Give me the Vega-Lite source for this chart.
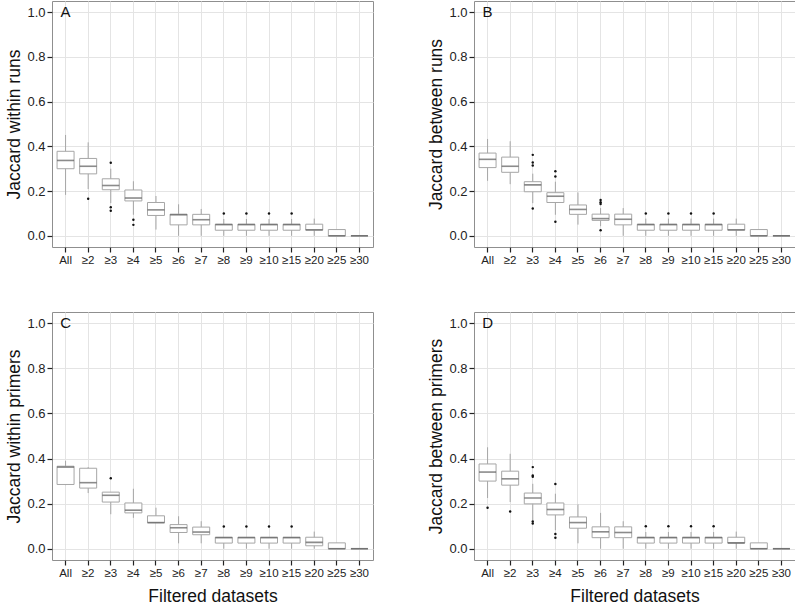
{
  "$schema": "https://vega.github.io/schema/vega-lite/v6.json",
  "background": "white",
  "padding": {"left": 5, "top": 0, "right": 1, "bottom": 0},
  "datasets": {
    "stats": [
      {"p": "A", "c": "All", "lo": 0.183, "q1": 0.300, "med": 0.337, "q3": 0.378, "hi": 0.451},
      {"p": "A", "c": "≥2", "lo": 0.209, "q1": 0.277, "med": 0.311, "q3": 0.346, "hi": 0.418},
      {"p": "A", "c": "≥3", "lo": 0.146, "q1": 0.206, "med": 0.225, "q3": 0.255, "hi": 0.300},
      {"p": "A", "c": "≥4", "lo": 0.094, "q1": 0.156, "med": 0.169, "q3": 0.205, "hi": 0.244},
      {"p": "A", "c": "≥5", "lo": 0.028, "q1": 0.091, "med": 0.116, "q3": 0.149, "hi": 0.178},
      {"p": "A", "c": "≥6", "lo": 0.0, "q1": 0.049, "med": 0.094, "q3": 0.097, "hi": 0.141},
      {"p": "A", "c": "≥7", "lo": 0.0, "q1": 0.049, "med": 0.072, "q3": 0.096, "hi": 0.120},
      {"p": "A", "c": "≥8", "lo": 0.0, "q1": 0.025, "med": 0.050, "q3": 0.052, "hi": 0.075},
      {"p": "A", "c": "≥9", "lo": 0.0, "q1": 0.025, "med": 0.050, "q3": 0.052, "hi": 0.075},
      {"p": "A", "c": "≥10", "lo": 0.0, "q1": 0.025, "med": 0.050, "q3": 0.052, "hi": 0.075},
      {"p": "A", "c": "≥15", "lo": 0.0, "q1": 0.025, "med": 0.050, "q3": 0.052, "hi": 0.075},
      {"p": "A", "c": "≥20", "lo": 0.0, "q1": 0.025, "med": 0.027, "q3": 0.052, "hi": 0.077},
      {"p": "A", "c": "≥25", "lo": 0.0, "q1": 0.0, "med": 0.0, "q3": 0.028, "hi": 0.028},
      {"p": "A", "c": "≥30", "lo": 0.0, "q1": 0.0, "med": 0.0, "q3": 0.0, "hi": 0.0},
      {"p": "B", "c": "All", "lo": 0.246, "q1": 0.305, "med": 0.342, "q3": 0.370, "hi": 0.433},
      {"p": "B", "c": "≥2", "lo": 0.231, "q1": 0.284, "med": 0.311, "q3": 0.352, "hi": 0.423},
      {"p": "B", "c": "≥3", "lo": 0.146, "q1": 0.197, "med": 0.228, "q3": 0.242, "hi": 0.278},
      {"p": "B", "c": "≥4", "lo": 0.094, "q1": 0.149, "med": 0.177, "q3": 0.193, "hi": 0.242},
      {"p": "B", "c": "≥5", "lo": 0.050, "q1": 0.096, "med": 0.118, "q3": 0.138, "hi": 0.194},
      {"p": "B", "c": "≥6", "lo": 0.043, "q1": 0.069, "med": 0.077, "q3": 0.097, "hi": 0.124},
      {"p": "B", "c": "≥7", "lo": 0.0, "q1": 0.049, "med": 0.074, "q3": 0.097, "hi": 0.124},
      {"p": "B", "c": "≥8", "lo": 0.0, "q1": 0.025, "med": 0.050, "q3": 0.052, "hi": 0.077},
      {"p": "B", "c": "≥9", "lo": 0.0, "q1": 0.025, "med": 0.050, "q3": 0.052, "hi": 0.077},
      {"p": "B", "c": "≥10", "lo": 0.0, "q1": 0.025, "med": 0.050, "q3": 0.052, "hi": 0.077},
      {"p": "B", "c": "≥15", "lo": 0.0, "q1": 0.025, "med": 0.050, "q3": 0.052, "hi": 0.077},
      {"p": "B", "c": "≥20", "lo": 0.0, "q1": 0.025, "med": 0.027, "q3": 0.052, "hi": 0.077},
      {"p": "B", "c": "≥25", "lo": 0.0, "q1": 0.0, "med": 0.0, "q3": 0.028, "hi": 0.028},
      {"p": "B", "c": "≥30", "lo": 0.0, "q1": 0.0, "med": 0.0, "q3": 0.0, "hi": 0.0},
      {"p": "C", "c": "All", "lo": 0.282, "q1": 0.285, "med": 0.362, "q3": 0.366, "hi": 0.390},
      {"p": "C", "c": "≥2", "lo": 0.247, "q1": 0.269, "med": 0.293, "q3": 0.357, "hi": 0.362},
      {"p": "C", "c": "≥3", "lo": 0.153, "q1": 0.207, "med": 0.237, "q3": 0.251, "hi": 0.251},
      {"p": "C", "c": "≥4", "lo": 0.137, "q1": 0.159, "med": 0.171, "q3": 0.203, "hi": 0.266},
      {"p": "C", "c": "≥5", "lo": 0.115, "q1": 0.115, "med": 0.116, "q3": 0.146, "hi": 0.182},
      {"p": "C", "c": "≥6", "lo": 0.024, "q1": 0.072, "med": 0.093, "q3": 0.107, "hi": 0.144},
      {"p": "C", "c": "≥7", "lo": 0.024, "q1": 0.062, "med": 0.074, "q3": 0.096, "hi": 0.122},
      {"p": "C", "c": "≥8", "lo": 0.0, "q1": 0.025, "med": 0.049, "q3": 0.051, "hi": 0.051},
      {"p": "C", "c": "≥9", "lo": 0.0, "q1": 0.025, "med": 0.049, "q3": 0.051, "hi": 0.051},
      {"p": "C", "c": "≥10", "lo": 0.0, "q1": 0.025, "med": 0.049, "q3": 0.051, "hi": 0.051},
      {"p": "C", "c": "≥15", "lo": 0.0, "q1": 0.025, "med": 0.049, "q3": 0.051, "hi": 0.051},
      {"p": "C", "c": "≥20", "lo": 0.0, "q1": 0.013, "med": 0.028, "q3": 0.051, "hi": 0.076},
      {"p": "C", "c": "≥25", "lo": 0.0, "q1": 0.0, "med": 0.0, "q3": 0.026, "hi": 0.026},
      {"p": "C", "c": "≥30", "lo": 0.0, "q1": 0.0, "med": 0.0, "q3": 0.0, "hi": 0.0},
      {"p": "D", "c": "All", "lo": 0.225, "q1": 0.300, "med": 0.340, "q3": 0.376, "hi": 0.450},
      {"p": "D", "c": "≥2", "lo": 0.207, "q1": 0.282, "med": 0.310, "q3": 0.344, "hi": 0.421},
      {"p": "D", "c": "≥3", "lo": 0.126, "q1": 0.199, "med": 0.225, "q3": 0.247, "hi": 0.288},
      {"p": "D", "c": "≥4", "lo": 0.082, "q1": 0.150, "med": 0.174, "q3": 0.203, "hi": 0.244},
      {"p": "D", "c": "≥5", "lo": 0.024, "q1": 0.091, "med": 0.116, "q3": 0.141, "hi": 0.197},
      {"p": "D", "c": "≥6", "lo": 0.0, "q1": 0.049, "med": 0.075, "q3": 0.097, "hi": 0.159},
      {"p": "D", "c": "≥7", "lo": 0.0, "q1": 0.049, "med": 0.072, "q3": 0.097, "hi": 0.122},
      {"p": "D", "c": "≥8", "lo": 0.0, "q1": 0.025, "med": 0.049, "q3": 0.051, "hi": 0.074},
      {"p": "D", "c": "≥9", "lo": 0.0, "q1": 0.025, "med": 0.049, "q3": 0.051, "hi": 0.074},
      {"p": "D", "c": "≥10", "lo": 0.0, "q1": 0.025, "med": 0.049, "q3": 0.051, "hi": 0.074},
      {"p": "D", "c": "≥15", "lo": 0.0, "q1": 0.025, "med": 0.049, "q3": 0.051, "hi": 0.074},
      {"p": "D", "c": "≥20", "lo": 0.0, "q1": 0.025, "med": 0.026, "q3": 0.051, "hi": 0.076},
      {"p": "D", "c": "≥25", "lo": 0.0, "q1": 0.0, "med": 0.0, "q3": 0.026, "hi": 0.026},
      {"p": "D", "c": "≥30", "lo": 0.0, "q1": 0.0, "med": 0.0, "q3": 0.0, "hi": 0.0}
    ],
    "outliers": [
      {"p": "A", "c": "≥2", "v": 0.166},
      {"p": "A", "c": "≥3", "v": 0.327},
      {"p": "A", "c": "≥3", "v": 0.128},
      {"p": "A", "c": "≥3", "v": 0.112},
      {"p": "A", "c": "≥4", "v": 0.072},
      {"p": "A", "c": "≥4", "v": 0.049},
      {"p": "A", "c": "≥8", "v": 0.100},
      {"p": "A", "c": "≥9", "v": 0.100},
      {"p": "A", "c": "≥10", "v": 0.100},
      {"p": "A", "c": "≥15", "v": 0.100},
      {"p": "B", "c": "≥3", "v": 0.362},
      {"p": "B", "c": "≥3", "v": 0.328},
      {"p": "B", "c": "≥3", "v": 0.314},
      {"p": "B", "c": "≥3", "v": 0.122},
      {"p": "B", "c": "≥4", "v": 0.289},
      {"p": "B", "c": "≥4", "v": 0.265},
      {"p": "B", "c": "≥4", "v": 0.063},
      {"p": "B", "c": "≥6", "v": 0.160},
      {"p": "B", "c": "≥6", "v": 0.150},
      {"p": "B", "c": "≥6", "v": 0.142},
      {"p": "B", "c": "≥6", "v": 0.025},
      {"p": "B", "c": "≥8", "v": 0.100},
      {"p": "B", "c": "≥9", "v": 0.100},
      {"p": "B", "c": "≥10", "v": 0.100},
      {"p": "B", "c": "≥15", "v": 0.100},
      {"p": "C", "c": "≥3", "v": 0.313},
      {"p": "C", "c": "≥8", "v": 0.099},
      {"p": "C", "c": "≥9", "v": 0.099},
      {"p": "C", "c": "≥10", "v": 0.099},
      {"p": "C", "c": "≥15", "v": 0.099},
      {"p": "D", "c": "All", "v": 0.182},
      {"p": "D", "c": "≥2", "v": 0.165},
      {"p": "D", "c": "≥3", "v": 0.362},
      {"p": "D", "c": "≥3", "v": 0.325},
      {"p": "D", "c": "≥3", "v": 0.319},
      {"p": "D", "c": "≥3", "v": 0.121},
      {"p": "D", "c": "≥3", "v": 0.112},
      {"p": "D", "c": "≥4", "v": 0.287},
      {"p": "D", "c": "≥4", "v": 0.065},
      {"p": "D", "c": "≥4", "v": 0.049},
      {"p": "D", "c": "≥8", "v": 0.100},
      {"p": "D", "c": "≥9", "v": 0.100},
      {"p": "D", "c": "≥10", "v": 0.100},
      {"p": "D", "c": "≥15", "v": 0.100}
    ],
    "labels": [
      {"p": "A", "label": "A", "c": "All", "v": 1.0},
      {"p": "B", "label": "B", "c": "All", "v": 1.0},
      {"p": "C", "label": "C", "c": "All", "v": 1.0},
      {"p": "D", "label": "D", "c": "All", "v": 1.0}
    ]
  },
  "columns": 2,
  "spacing": {"column": 53, "row": 45},
  "concat": [
    {
      "width": 321, "height": 246,
      "data": {"name": "stats"},
      "transform": [{"filter": "datum.p == 'A'"}],
      "encoding": {
        "x": {"field": "c", "type": "nominal", "sort": ["All","≥2","≥3","≥4","≥5","≥6","≥7","≥8","≥9","≥10","≥15","≥20","≥25","≥30"], "scale": {"paddingInner": 0.26, "paddingOuter": 0.23}, "axis": {"title": null, "labelAngle": 0, "grid": true, "bandPosition": 0.5, "labelFontSize": 11.5}}
      },
      "layer": [
        {"mark": {"type": "rule", "color": "#a6a6a6"}, "encoding": {"y": {"field": "lo", "type": "quantitative", "scale": {"domain": [-0.05, 1.05], "nice": false, "zero": false}, "axis": {"title": "Jaccard within runs", "titleFontSize": 17.5, "values": [0,0.1,0.2,0.3,0.4,0.5,0.6,0.7,0.8,0.9,1.0], "labelExpr": "round(datum.value*10)%2==0 ? format(datum.value,'.1f') : ''", "tickOpacity": {"condition": {"test": "round(datum.value*10)%2==1", "value": 0}, "value": 1}, "gridColor": {"condition": {"test": "round(datum.value*10)%2==1", "value": "#f4f4f4"}, "value": "#e4e4e4"}, "labelFontSize": 13}}, "y2": {"field": "hi"}}},
        {"mark": {"type": "bar", "fill": "white", "stroke": "#a6a6a6", "strokeWidth": 1, "size": 17}, "encoding": {"y": {"field": "q1", "type": "quantitative"}, "y2": {"field": "q3"}}},
        {"mark": {"type": "tick", "color": "#5a5a5a", "thickness": 1.6, "size": 17}, "encoding": {"y": {"field": "med", "type": "quantitative"}}},
        {"data": {"name": "outliers"}, "transform": [{"filter": "datum.p == 'A'"}], "mark": {"type": "circle", "color": "#111", "size": 6, "opacity": 1}, "encoding": {"y": {"field": "v", "type": "quantitative"}}},
        {"data": {"name": "labels"}, "transform": [{"filter": "datum.p == 'A'"}], "mark": {"type": "text", "fontSize": 15, "fontWeight": "normal", "color": "#111", "baseline": "middle"}, "encoding": {"y": {"field": "v", "type": "quantitative"}, "text": {"field": "label"}}}
      ]
    },
    {
      "width": 321, "height": 246,
      "data": {"name": "stats"},
      "transform": [{"filter": "datum.p == 'B'"}],
      "encoding": {
        "x": {"field": "c", "type": "nominal", "sort": ["All","≥2","≥3","≥4","≥5","≥6","≥7","≥8","≥9","≥10","≥15","≥20","≥25","≥30"], "scale": {"paddingInner": 0.26, "paddingOuter": 0.23}, "axis": {"title": null, "labelAngle": 0, "grid": true, "bandPosition": 0.5, "labelFontSize": 11.5}}
      },
      "layer": [
        {"mark": {"type": "rule", "color": "#a6a6a6"}, "encoding": {"y": {"field": "lo", "type": "quantitative", "scale": {"domain": [-0.05, 1.05], "nice": false, "zero": false}, "axis": {"title": "Jaccard between runs", "titleFontSize": 17.5, "values": [0,0.1,0.2,0.3,0.4,0.5,0.6,0.7,0.8,0.9,1.0], "labelExpr": "round(datum.value*10)%2==0 ? format(datum.value,'.1f') : ''", "tickOpacity": {"condition": {"test": "round(datum.value*10)%2==1", "value": 0}, "value": 1}, "gridColor": {"condition": {"test": "round(datum.value*10)%2==1", "value": "#f4f4f4"}, "value": "#e4e4e4"}, "labelFontSize": 13}}, "y2": {"field": "hi"}}},
        {"mark": {"type": "bar", "fill": "white", "stroke": "#a6a6a6", "strokeWidth": 1, "size": 17}, "encoding": {"y": {"field": "q1", "type": "quantitative"}, "y2": {"field": "q3"}}},
        {"mark": {"type": "tick", "color": "#5a5a5a", "thickness": 1.6, "size": 17}, "encoding": {"y": {"field": "med", "type": "quantitative"}}},
        {"data": {"name": "outliers"}, "transform": [{"filter": "datum.p == 'B'"}], "mark": {"type": "circle", "color": "#111", "size": 6, "opacity": 1}, "encoding": {"y": {"field": "v", "type": "quantitative"}}},
        {"data": {"name": "labels"}, "transform": [{"filter": "datum.p == 'B'"}], "mark": {"type": "text", "fontSize": 15, "fontWeight": "normal", "color": "#111", "baseline": "middle"}, "encoding": {"y": {"field": "v", "type": "quantitative"}, "text": {"field": "label"}}}
      ]
    },
    {
      "width": 321, "height": 248,
      "data": {"name": "stats"},
      "transform": [{"filter": "datum.p == 'C'"}],
      "encoding": {
        "x": {"field": "c", "type": "nominal", "sort": ["All","≥2","≥3","≥4","≥5","≥6","≥7","≥8","≥9","≥10","≥15","≥20","≥25","≥30"], "scale": {"paddingInner": 0.26, "paddingOuter": 0.23}, "axis": {"title": "Filtered datasets", "titleFontSize": 17.5, "titlePadding": 9, "labelAngle": 0, "grid": true, "bandPosition": 0.5, "labelFontSize": 11.5}}
      },
      "layer": [
        {"mark": {"type": "rule", "color": "#a6a6a6"}, "encoding": {"y": {"field": "lo", "type": "quantitative", "scale": {"domain": [-0.05, 1.05], "nice": false, "zero": false}, "axis": {"title": "Jaccard within primers", "titleFontSize": 17.5, "values": [0,0.1,0.2,0.3,0.4,0.5,0.6,0.7,0.8,0.9,1.0], "labelExpr": "round(datum.value*10)%2==0 ? format(datum.value,'.1f') : ''", "tickOpacity": {"condition": {"test": "round(datum.value*10)%2==1", "value": 0}, "value": 1}, "gridColor": {"condition": {"test": "round(datum.value*10)%2==1", "value": "#f4f4f4"}, "value": "#e4e4e4"}, "labelFontSize": 13}}, "y2": {"field": "hi"}}},
        {"mark": {"type": "bar", "fill": "white", "stroke": "#a6a6a6", "strokeWidth": 1, "size": 17}, "encoding": {"y": {"field": "q1", "type": "quantitative"}, "y2": {"field": "q3"}}},
        {"mark": {"type": "tick", "color": "#5a5a5a", "thickness": 1.6, "size": 17}, "encoding": {"y": {"field": "med", "type": "quantitative"}}},
        {"data": {"name": "outliers"}, "transform": [{"filter": "datum.p == 'C'"}], "mark": {"type": "circle", "color": "#111", "size": 6, "opacity": 1}, "encoding": {"y": {"field": "v", "type": "quantitative"}}},
        {"data": {"name": "labels"}, "transform": [{"filter": "datum.p == 'C'"}], "mark": {"type": "text", "fontSize": 15, "fontWeight": "normal", "color": "#111", "baseline": "middle"}, "encoding": {"y": {"field": "v", "type": "quantitative"}, "text": {"field": "label"}}}
      ]
    },
    {
      "width": 321, "height": 248,
      "data": {"name": "stats"},
      "transform": [{"filter": "datum.p == 'D'"}],
      "encoding": {
        "x": {"field": "c", "type": "nominal", "sort": ["All","≥2","≥3","≥4","≥5","≥6","≥7","≥8","≥9","≥10","≥15","≥20","≥25","≥30"], "scale": {"paddingInner": 0.26, "paddingOuter": 0.23}, "axis": {"title": "Filtered datasets", "titleFontSize": 17.5, "titlePadding": 9, "labelAngle": 0, "grid": true, "bandPosition": 0.5, "labelFontSize": 11.5}}
      },
      "layer": [
        {"mark": {"type": "rule", "color": "#a6a6a6"}, "encoding": {"y": {"field": "lo", "type": "quantitative", "scale": {"domain": [-0.05, 1.05], "nice": false, "zero": false}, "axis": {"title": "Jaccard between primers", "titleFontSize": 17.5, "values": [0,0.1,0.2,0.3,0.4,0.5,0.6,0.7,0.8,0.9,1.0], "labelExpr": "round(datum.value*10)%2==0 ? format(datum.value,'.1f') : ''", "tickOpacity": {"condition": {"test": "round(datum.value*10)%2==1", "value": 0}, "value": 1}, "gridColor": {"condition": {"test": "round(datum.value*10)%2==1", "value": "#f4f4f4"}, "value": "#e4e4e4"}, "labelFontSize": 13}}, "y2": {"field": "hi"}}},
        {"mark": {"type": "bar", "fill": "white", "stroke": "#a6a6a6", "strokeWidth": 1, "size": 17}, "encoding": {"y": {"field": "q1", "type": "quantitative"}, "y2": {"field": "q3"}}},
        {"mark": {"type": "tick", "color": "#5a5a5a", "thickness": 1.6, "size": 17}, "encoding": {"y": {"field": "med", "type": "quantitative"}}},
        {"data": {"name": "outliers"}, "transform": [{"filter": "datum.p == 'D'"}], "mark": {"type": "circle", "color": "#111", "size": 6, "opacity": 1}, "encoding": {"y": {"field": "v", "type": "quantitative"}}},
        {"data": {"name": "labels"}, "transform": [{"filter": "datum.p == 'D'"}], "mark": {"type": "text", "fontSize": 15, "fontWeight": "normal", "color": "#111", "baseline": "middle"}, "encoding": {"y": {"field": "v", "type": "quantitative"}, "text": {"field": "label"}}}
      ]
    }
  ],
  "config": {
    "font": "Liberation Sans",
    "view": {"stroke": "#8f8f8f", "strokeWidth": 1},
    "axis": {"domain": false, "tickColor": "#222", "tickSize": 5, "tickWidth": 1.2, "labelColor": "#222", "titleColor": "#111", "titleFontWeight": "normal", "labelPadding": 2, "titlePadding": 3, "gridColor": "#e4e4e4", "gridWidth": 1}
  }
}
